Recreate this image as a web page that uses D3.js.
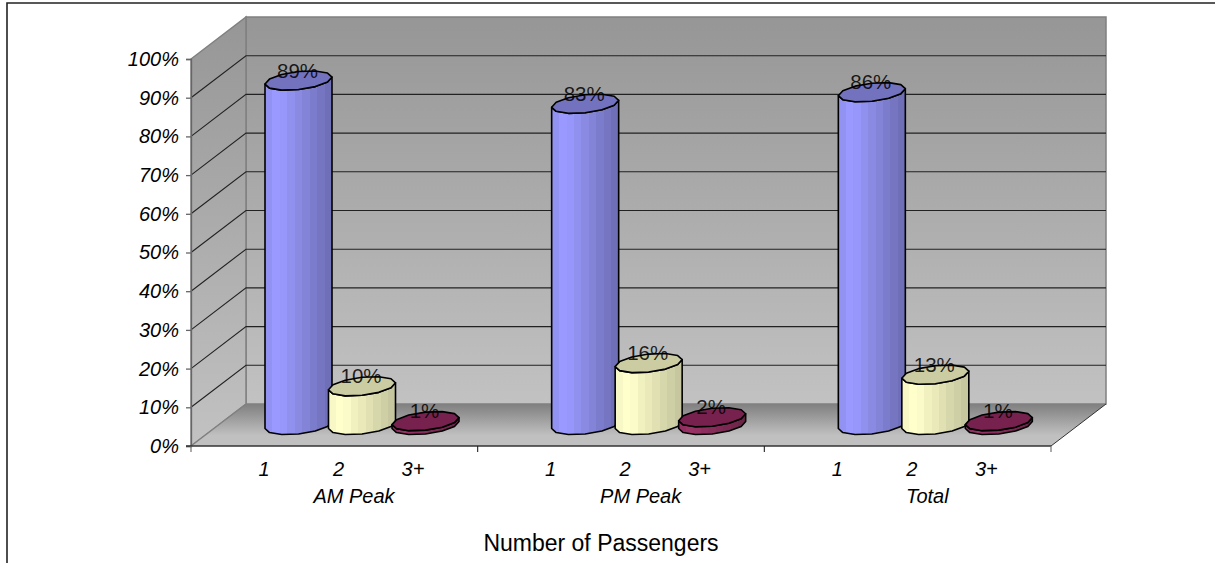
<!DOCTYPE html>
<html>
<head>
<meta charset="utf-8">
<script src="https://cdnjs.cloudflare.com/ajax/libs/d3/7.8.5/d3.min.js"></script>
<style>
  html, body { margin: 0; padding: 0; background: #fff; overflow: hidden; }
  svg { display: block; }
  text { font-family: "Liberation Sans", Arial, sans-serif; fill: #000; }
</style>
</head>
<body>
<svg id="chart" width="1215" height="563"></svg>
<script>
// Share of vehicles by occupancy, for each time period
const periods = ["AM Peak", "PM Peak", "Total"];
const passengers = ["1", "2", "3+"];
const amPeak = [89, 10, 1];
const pmPeak = [83, 16, 2];
const total = [86, 13, 1];
const seriesByPeriod = [amPeak, pmPeak, total];
const percentTicks = [0, 10, 20, 30, 40, 50, 60, 70, 80, 90, 100];
const axisTitle = "Number of Passengers";

const svg = d3.select("#chart");
const defs = svg.append("defs");

// Oblique projection: front plane and the shift to the back plane
const plot = { left: 191, right: 1051, bottom: 446, top: 59, depthX: 55, depthY: -42 };
const barDepth = 0.5;

const x = d3.scaleBand().domain(periods).range([plot.left, plot.right]);
const y = d3.scaleLinear().domain([0, 100]).range([plot.bottom, plot.top]);
const barX = d3.scalePoint().domain(passengers).range([80, 207]);
const labelX = d3.scalePoint().domain(passengers).range([73, 222]);

// Wall and floor shading
function verticalGradient(id, stops) {
  const g = defs.append("linearGradient").attr("id", id)
    .attr("x1", 0).attr("y1", 0).attr("x2", 0).attr("y2", 1);
  stops.forEach(([o, c]) => g.append("stop").attr("offset", o).attr("stop-color", c));
}
verticalGradient("wall", [[0, "#969696"], [1, "#c2c2c2"]]);
verticalGradient("floor", [[0, "#808080"], [0.75, "#c0c0c0"], [1, "#c0c0c0"]]);

// Cylinder sides are shaded in narrow vertical bands
function bandedGradient(id, colors) {
  const g = defs.append("linearGradient").attr("id", id);
  const n = colors.length;
  colors.forEach((c, i) => {
    g.append("stop").attr("offset", i / n).attr("stop-color", c);
    g.append("stop").attr("offset", (i + 1) / n).attr("stop-color", c);
  });
}
const sideColors = [
  ["#9292f2", "#9999ff", "#9797fb", "#9090ee", "#8a8ae3", "#8383d8", "#7c7ccc", "#7575c1", "#6f6fb8"],
  ["#f8f8c6", "#ffffcc", "#fbfbc9", "#f1f1c0", "#e9e9ba", "#e0e0b3", "#d7d7ac", "#cfcfa5", "#c7c79f"],
  ["#8f2f5f", "#993366", "#953264", "#8d2f5e", "#872d5a", "#802b55", "#792851", "#72264c", "#6c2448"]
];
const topColors = ["#7272bf", "#cccca3", "#77214f"];
passengers.forEach((p, i) => bandedGradient("side" + i, sideColors[i]));

const g = svg.append("g");

// Back wall, side wall, floor
const dx = plot.depthX, dy = plot.depthY;
const poly = pts => d3.line()(pts) + "Z";
const edge = "#808080";
g.append("path")
  .attr("d", poly([[plot.left + dx, plot.top + dy], [plot.right + dx, plot.top + dy], [plot.right + dx, plot.bottom + dy], [plot.left + dx, plot.bottom + dy]]))
  .attr("fill", "url(#wall)").attr("stroke", edge).attr("stroke-width", 1.5);
g.append("path")
  .attr("d", poly([[plot.left, plot.top], [plot.left + dx, plot.top + dy], [plot.left + dx, plot.bottom + dy], [plot.left, plot.bottom]]))
  .attr("fill", "url(#wall)").attr("stroke", edge).attr("stroke-width", 1.5);
g.append("path")
  .attr("d", poly([[plot.left, plot.bottom], [plot.left + dx, plot.bottom + dy], [plot.right + dx, plot.bottom + dy], [plot.right, plot.bottom]]))
  .attr("fill", "url(#floor)").attr("stroke", "none");
g.append("line")
  .attr("x1", plot.right).attr("y1", plot.bottom).attr("x2", plot.right + dx).attr("y2", plot.bottom + dy)
  .attr("stroke", "#333").attr("stroke-width", 1);
g.append("line")
  .attr("x1", plot.left).attr("y1", plot.bottom).attr("x2", plot.left + dx).attr("y2", plot.bottom + dy)
  .attr("stroke", edge).attr("stroke-width", 1.2);

// Gridlines along the side and back walls
percentTicks.filter(t => t > 0 && t < 100).forEach(t => {
  g.append("path")
    .attr("d", d3.line()([[plot.left, y(t)], [plot.left + dx, y(t) + dy], [plot.right + dx, y(t) + dy]]))
    .attr("fill", "none").attr("stroke", "#222").attr("stroke-width", 1.1);
});

// Value axis, with the domain line standing on the front plane
const yAxis = svg.append("g").attr("transform", `translate(${plot.left},0)`)
  .call(d3.axisLeft(y).tickValues(percentTicks).tickFormat(d => d + "%").tickSize(5).tickPadding(7));
yAxis.selectAll("path, line").attr("stroke", "#666").attr("stroke-width", 1.3);
yAxis.selectAll("text").attr("font-size", 20).attr("font-style", "italic").attr("font-family", null);

// Category axis: front edge with ticks between the periods
const xAxisLine = svg.append("g");
xAxisLine.append("line").attr("x1", plot.left - 5).attr("x2", plot.right).attr("y1", plot.bottom).attr("y2", plot.bottom)
  .attr("stroke", "#333").attr("stroke-width", 1.3);
[...periods.map(p => x(p)), plot.right].forEach(v => {
  xAxisLine.append("line").attr("x1", v).attr("x2", v).attr("y1", plot.bottom).attr("y2", plot.bottom + 6)
    .attr("stroke", v === plot.right || v === plot.left ? "#666" : "#222").attr("stroke-width", 1.1);
});

// Cylinder outlines are traced as coarse polygons, as in office 3D charts
const halfWidth = 33.5, squash = 9, shear = 3.5;
const rim = (cx, cy, from, to, n) => d3.range(n + 1).map(i => {
  const a = from + (to - from) * i / n;
  return [cx + halfWidth * Math.cos(a), cy + squash * Math.sin(a) - shear * Math.cos(a)];
});
const coarse = d3.line();

periods.forEach((period, pi) => {
  const values = seriesByPeriod[pi];
  const bars = g.append("g");
  passengers.forEach((p, i) => {
    const v = values[i];
    const cx = x(period) + barX(p) + dx * barDepth;
    const base = y(0) + dy * barDepth;
    const top = y(v) + dy * barDepth;
    const front = rim(cx, base, 0, Math.PI, 6);
    const upper = rim(cx, top, Math.PI, 0, 6);
    bars.append("path").attr("d", coarse(front.concat(upper)) + "Z")
      .attr("fill", `url(#side${i})`).attr("stroke", "#000").attr("stroke-width", 1.6).attr("stroke-linejoin", "round");
    const topRim = rim(cx, top, 0, 2 * Math.PI, 12).slice(0, -1);
    bars.append("path").attr("d", coarse(topRim) + "Z")
      .attr("fill", topColors[i]).attr("stroke", "#000").attr("stroke-width", 1.6).attr("stroke-linejoin", "round");
  });
  // Value labels sit over the tops of the cylinders
  passengers.forEach((p, i) => {
    const v = values[i];
    svg.append("text")
      .attr("x", x(period) + barX(p) + dx * barDepth - 1)
      .attr("y", y(v) + dy * barDepth - 3)
      .attr("text-anchor", "middle").attr("font-size", 20.5).attr("fill-opacity", 0.85)
      .text(v + "%");
  });
  passengers.forEach(p => {
    svg.append("text")
      .attr("x", x(period) + labelX(p)).attr("y", 476)
      .attr("text-anchor", "middle").attr("font-size", 20).attr("font-style", "italic")
      .text(p);
  });
  svg.append("text")
    .attr("x", x(period) + 163).attr("y", 503)
    .attr("text-anchor", "middle").attr("font-size", 20).attr("font-style", "italic")
    .text(period);
});

svg.append("text")
  .attr("x", 601).attr("y", 551)
  .attr("text-anchor", "middle").attr("font-size", 23)
  .text(axisTitle);

// Chart area frame: top and left edges only
svg.append("path")
  .attr("d", d3.line()([[7, 563], [7, 3], [1215, 3]]))
  .attr("fill", "none").attr("stroke", "#222").attr("stroke-width", 1.6);
</script>
</body>
</html>
